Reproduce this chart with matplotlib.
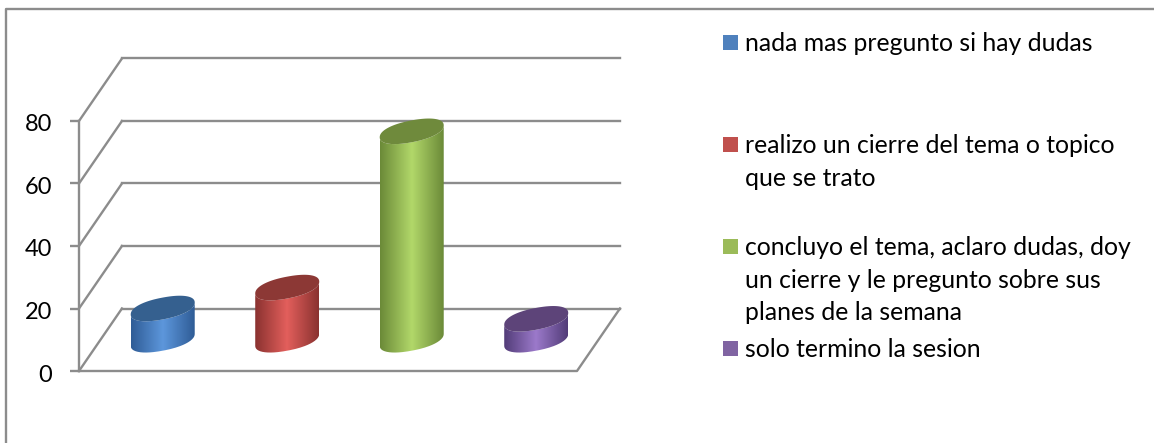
import numpy as np
import matplotlib
matplotlib.use('Agg')
import matplotlib.pyplot as plt
from matplotlib.colors import LinearSegmentedColormap
from matplotlib.patches import PathPatch, Rectangle
from matplotlib.path import Path
from matplotlib.lines import Line2D
from matplotlib.transforms import ScaledTranslation

WIDTH = 1154
HEIGHT = 443

labels = ['nada mas pregunto si hay dudas',
          'realizo un cierre del tema o topico\nque se trato',
          'concluyo el tema, aclaro dudas, doy\nun cierre y le pregunto sobre sus\nplanes de la semana',
          'solo termino la sesion']
values = [10, 16.7, 66.7, 6.7]
yticks = [0, 20, 40, 60, 80]

legend_colors = ['#4f81bd', '#c0504d', '#9bbb59', '#8064a2']
edge_colors = ['#2f5c96', '#8a3230', '#6b8a38', '#523c78']
mid_colors = ['#5d97dc', '#e35f5c', '#b2d86a', '#9c7acb']
top_colors = ['#35608f', '#8c3835', '#6f8a3c', '#5d4479']
legend_top = [35, 137, 239, 341]

GRAY = '#8c8c8c'
DEPTH_X = 0.345
DEPTH_Y = 20
A = 0.257
B = 3.5
K = 1.9
ROUND = 0.9

plt.rcParams['font.family'] = ['Lato', 'DejaVu Sans']

fig = plt.figure(figsize=(WIDTH / 100, HEIGHT / 100), dpi=100)
ax = fig.add_axes([79 / WIDTH, 1 - 371 / HEIGHT, 498 / WIDTH, 250 / HEIGHT])


def ring(cx, y, t):
    # slightly squared, sheared ellipse: the right side sits higher than the left
    c = np.sign(np.cos(t)) * np.abs(np.cos(t)) ** ROUND
    s = np.sign(np.sin(t)) * np.abs(np.sin(t)) ** ROUND
    return cx + A * c, y + B * s + K * c


def cylinder(cx, base, height, i):
    top = base + height
    t = np.linspace(np.pi, 2 * np.pi, 80)
    xb, yb = ring(cx, base, t)
    xt, yt = ring(cx, top, t[::-1])
    verts = np.column_stack([np.r_[xb, xt], np.r_[yb, yt]])
    cmap = LinearSegmentedColormap.from_list('c', [edge_colors[i], mid_colors[i], edge_colors[i]])
    img = ax.imshow(np.linspace(0, 1, 128)[None, :], cmap=cmap, aspect='auto', zorder=3,
                    extent=[cx - A, cx + A, base - 10, top + 10], clip_on=True)
    patch = PathPatch(Path(np.vstack([verts, verts[0]])), fc='none', ec='none', transform=ax.transData)
    ax.add_patch(patch)
    img.set_clip_path(patch)
    tt = np.linspace(0, 2 * np.pi, 160)
    xe, ye = ring(cx, top, tt)
    ax.fill(xe, ye, color=top_colors[i], lw=0, zorder=4, clip_on=False)


# walls and floor
for y in yticks:
    ax.plot([DEPTH_X, 4 + DEPTH_X], [y + DEPTH_Y, y + DEPTH_Y], color=GRAY, lw=1.7, zorder=1, clip_on=False)
    ax.plot([0, DEPTH_X], [y, y + DEPTH_Y], color=GRAY, lw=1.7, zorder=1, clip_on=False)
ax.plot([0, 4, 4 + DEPTH_X], [0, 0, DEPTH_Y], color=GRAY, lw=1.7, zorder=1, clip_on=False)

for i, v in enumerate(values):
    cylinder(i + 0.5 + DEPTH_X / 2, DEPTH_Y / 2, v, i)

ax.set_xlim(0, 4)
ax.set_ylim(0, 80)
ax.set_xticks([])
ax.set_yticks(yticks)
ax.tick_params(axis='y', length=6.5, width=1.7, color=GRAY, labelsize=17, labelcolor='black', pad=13)
# the reference labels sit a little below their ticks
for lab in ax.get_yticklabels():
    lab.set_transform(lab.get_transform() + ScaledTranslation(0, -2 / 100, fig.dpi_scale_trans))
ax.patch.set_visible(False)
for side in ['top', 'right', 'bottom']:
    ax.spines[side].set_visible(False)
ax.spines['left'].set_color(GRAY)
ax.spines['left'].set_linewidth(1.7)

# legend, laid out by hand because the spacing is uneven
for top, lab, col in zip(legend_top, labels, legend_colors):
    fig.add_artist(Rectangle((723 / WIDTH, 1 - (top + 15) / HEIGHT), 15 / WIDTH, 15 / HEIGHT,
                             transform=fig.transFigure, fc=col, ec='none'))
    fig.text(745 / WIDTH, 1 - (top - 3) / HEIGHT, lab, fontsize=17.8, color='black', va='top', ha='left',
             linespacing=1.5)

# chart border: only left and top are inside the crop
fig.add_artist(Line2D([5.5 / WIDTH, 5.5 / WIDTH, 1], [0, 1 - 8.5 / HEIGHT, 1 - 8.5 / HEIGHT], color=GRAY, lw=1.7))

fig.savefig('out.png', dpi=100)
